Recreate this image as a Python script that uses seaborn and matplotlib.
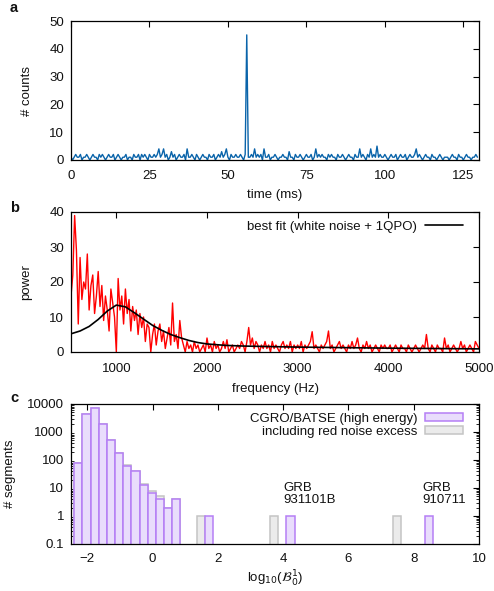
import numpy as np
import pandas as pd
import matplotlib
matplotlib.use("Agg")
import matplotlib.pyplot as plt
import matplotlib.patches as mpatches
from matplotlib.lines import Line2D
import seaborn as sns

# ---------------- data ----------------
# panel a: light curve, 0.5 ms bins
time_step_ms = 0.5
counts = [
    1, 0, 1, 2, 1, 1, 2, 0, 1, 1, 2, 1, 0, 1, 2, 1, 1, 0, 2, 1,
    2, 1, 0, 1, 2, 1, 1, 2, 0, 1, 2, 1, 0, 1, 1, 2, 0, 1, 1, 0,
    2, 1, 1, 2, 0, 2, 1, 2, 1, 0, 2, 1, 1, 2, 1, 2, 4, 1, 2, 4,
    1, 2, 0, 1, 3, 1, 2, 0, 1, 2, 1, 1, 2, 0, 4, 1, 1, 2, 1, 0,
    2, 1, 0, 1, 2, 1, 1, 0, 2, 1, 1, 2, 0, 1, 2, 1, 3, 1, 2, 4,
    1, 0, 2, 1, 1, 2, 1, 1, 2, 1, 0, 2, 45, 1, 1, 2, 1, 4, 1, 2,
    1, 2, 0, 4, 1, 1, 2, 0, 1, 1, 2, 1, 0, 1, 1, 2, 1, 1, 0, 3,
    1, 1, 0, 2, 1, 1, 2, 1, 0, 1, 2, 1, 1, 2, 0, 1, 4, 1, 2, 1,
    2, 1, 1, 0, 2, 1, 2, 1, 1, 0, 2, 1, 1, 2, 1, 0, 1, 2, 1, 1,
    0, 2, 1, 1, 4, 1, 2, 1, 0, 2, 1, 4, 1, 2, 1, 5, 1, 2, 1, 1,
    2, 1, 0, 1, 2, 1, 1, 2, 0, 1, 2, 1, 1, 2, 0, 1, 2, 1, 1, 2,
    4, 1, 2, 1, 0, 1, 2, 1, 1, 0, 2, 1, 1, 0, 1, 2, 1, 0, 1, 1,
    1, 0, 1, 2, 1, 1, 0, 2, 1, 1, 0, 1, 2, 1, 1, 0, 1, 1, 2, 1,
]

# panel b: power spectrum, 20 Hz steps from 500 Hz
freq_start_hz = 500
freq_step_hz = 20
power = [
    16, 22, 39, 29, 8, 27, 15, 20, 18, 28, 12, 19, 22, 11, 16, 23, 13, 19, 9, 16, 12, 6, 18, 14, 10,
    0, 21, 12, 16, 8, 18, 11, 15, 6, 13, 9, 12, 5, 11, 7, 10, 3, 8, 7, 0, 5, 8, 2, 6, 8,
    3, 6, 1, 4, 7, 2, 14, 3, 5, 1, 9, 4, 2, 0, 3, 1, 2, 0, 3, 1, 2, 0, 1, 2, 0,
    4, 1, 2, 0, 3, 1, 2, 0, 1, 3, 1, 3.5, 0, 1, 2, 0, 1, 2, 1, 3, 2, 0, 3, 7, 2,
    4, 1, 3, 2, 0, 2, 1, 3, 1, 2, 0, 3, 1, 2, 1, 0, 2, 3, 1, 2, 1, 3, 0, 2, 1,
    2, 1, 3, 0, 2, 1, 2, 3, 5.8, 1, 2, 1, 0, 2, 1, 2, 3, 6, 1, 2, 0, 1, 2, 3, 1,
    2, 1, 0, 2, 1, 3, 1, 2, 4, 1, 0, 2, 1, 3, 1, 2, 0, 1, 2, 1, 0, 2, 1, 2, 1,
    1, 2, 0, 1, 2, 1, 0, 2, 1, 1, 0, 2, 1, 0, 1, 2, 1, 0, 1, 2, 1, 5, 1, 0, 2,
    1, 0, 2, 1, 1, 0, 4, 1, 2, 0, 1, 2, 1, 0, 1, 3, 1, 2, 0, 1, 2, 1, 0, 3, 2,
    1,
]
fit_freq = [500, 600, 700, 800, 900, 1000, 1100, 1200, 1300, 1400, 1500, 1600, 1700,
            1800, 1900, 2000, 2200, 2400, 2600, 2800, 3000, 3500, 4000, 4500, 5000]
fit_power = [5.2, 6.0, 7.3, 9.3, 11.7, 13.4, 12.9, 11.2, 9.4, 7.6, 6.2, 5.0, 4.1,
             3.3, 2.7, 2.3, 1.9, 1.7, 1.6, 1.5, 1.4, 1.25, 1.1, 1.0, 0.9]

# panel c: histogram of log10 Bayes factors
bin_start = -2.4
bin_width = 0.25
batse_bin_index = [0, 1, 2, 3, 4, 5, 6, 7, 8, 9, 10, 11, 12, 16, 26, 43]
batse_counts = [77, 4400, 7200, 1900, 520, 175, 63, 41, 13, 6.8, 4, 2, 4, 1, 1, 1]
red_bin_index = [0, 1, 2, 3, 4, 5, 6, 7, 8, 9, 10, 11, 12, 15, 24, 39]
red_counts = [77, 4400, 7200, 1900, 520, 175, 66, 41, 14, 7.8, 5, 2, 4, 1, 1, 1]
grb_labels = ["GRB\n931101B", "GRB\n910711"]
grb_x = [4.0, 8.27]

y_ticks_c = [0.1, 1, 10, 100, 1000, 10000]
y_ticklabels_c = ["0.1", "1", "10", "100", "1000", "10000"]

# ---------------- style ----------------
sns.set_theme(style="white")
plt.rcParams["font.family"] = ["Liberation Sans", "DejaVu Sans"]
plt.rcParams["mathtext.fontset"] = "dejavusans"
FS = 9.5
plt.rcParams.update({
    "font.size": FS, "axes.labelsize": FS, "xtick.labelsize": FS, "ytick.labelsize": FS,
    "legend.fontsize": FS, "axes.edgecolor": "black", "axes.linewidth": 0.9,
    "text.color": "#111111", "axes.labelcolor": "#111111",
    "xtick.color": "black", "ytick.color": "black",
})

W, H = 494, 591
fig = plt.figure(figsize=(W / 100, H / 100), dpi=100)


def add_ax(top, bottom, left=71, right=479):
    return fig.add_axes([left / W, 1 - bottom / H, (right - left) / W, (bottom - top) / H])


def style_ax(ax, xpad=7):
    ax.tick_params(direction="in", top=True, right=True, length=4, width=0.8,
                   labelcolor="#111111")
    ax.tick_params(axis="x", pad=xpad)
    ax.tick_params(axis="y", pad=5)
    for s in ax.spines.values():
        s.set_visible(True)
        s.set_color("black")
        s.set_linewidth(0.9)


# ---- panel a ----
ax_a = add_ax(21, 160)
df_a = pd.DataFrame({"t": np.arange(len(counts)) * time_step_ms, "c": counts})
sns.lineplot(data=df_a, x="t", y="c", ax=ax_a, color="#0a64aa", lw=1.0, estimator=None)
ax_a.set_xlim(0, 130)
ax_a.set_ylim(0, 50)
ax_a.set_xticks([0, 25, 50, 75, 100, 125])
ax_a.set_yticks([0, 10, 20, 30, 40, 50])
ax_a.set_xlabel("time (ms)", labelpad=5)
ax_a.set_ylabel("# counts", labelpad=12)
style_ax(ax_a, xpad=7)

# ---- panel b ----
ax_b = add_ax(212, 352)
df_b = pd.DataFrame({"f": freq_start_hz + np.arange(len(power)) * freq_step_hz, "p": power})
sns.lineplot(data=df_b, x="f", y="p", ax=ax_b, color="#ff0000", lw=1.0, estimator=None)
df_fit = pd.DataFrame({"f": fit_freq, "p": fit_power})
sns.lineplot(data=df_fit, x="f", y="p", ax=ax_b, color="black", lw=1.2, estimator=None)
ax_b.set_xlim(500, 5000)
ax_b.set_ylim(0, 40)
ax_b.set_xticks([1000, 2000, 3000, 4000, 5000])
ax_b.set_yticks([0, 10, 20, 30, 40])
ax_b.set_xlabel("frequency (Hz)", labelpad=6)
ax_b.set_ylabel("power", labelpad=12)
style_ax(ax_b, xpad=8)
h_fit = Line2D([], [], color="black", lw=1.2)
ax_b.legend([h_fit], ["best fit (white noise + 1QPO)"], loc="upper right",
            frameon=False, markerfirst=False, handlelength=2.9, handletextpad=0.6,
            borderaxespad=0.25, bbox_to_anchor=(0.983, 1.0))

# ---- panel c ----
ax_c = add_ax(404, 544)
edges = [float(e) for e in bin_start + bin_width * np.arange(0, 51)]
df_red = pd.DataFrame({"x": [bin_start + bin_width * (i + 0.5) for i in red_bin_index],
                       "w": red_counts})
df_batse = pd.DataFrame({"x": [bin_start + bin_width * (i + 0.5) for i in batse_bin_index],
                         "w": batse_counts})
gray_face, gray_edge = "#ebebeb", "#c4c4c4"
purp_face, purp_edge = "#e9ddfc", "#b57ff5"
sns.histplot(data=df_red, x="x", weights="w", bins=edges, ax=ax_c,
             facecolor=gray_face, edgecolor=gray_edge, linewidth=1.1, alpha=1)
sns.histplot(data=df_batse, x="x", weights="w", bins=edges, ax=ax_c,
             facecolor=purp_face, edgecolor=purp_edge, linewidth=1.1, alpha=1)
ax_c.set_yscale("log")
ax_c.set_xlim(-2.5, 10)
ax_c.set_ylim(0.1, 10000)
ax_c.set_xticks([-2, 0, 2, 4, 6, 8, 10])
ax_c.set_yticks(y_ticks_c)
ax_c.set_yticklabels(y_ticklabels_c)
ax_c.yaxis.set_minor_locator(matplotlib.ticker.LogLocator(base=10, subs=np.arange(2, 10) * 1.0, numticks=20))
ax_c.yaxis.set_minor_formatter(matplotlib.ticker.NullFormatter())
ax_c.set_xlabel(r"log$_{10}$($\mathcal{B}_0^1$)", labelpad=3)
ax_c.set_ylabel("# segments", labelpad=8)
style_ax(ax_c, xpad=6.5)
ax_c.tick_params(which="minor", direction="in", left=True, right=True, length=2, width=0.6)
for lab, xv in zip(grb_labels, grb_x):
    ax_c.text(xv, 2.2, lab, ha="left", va="bottom", fontsize=FS, linespacing=1.0)
h1 = mpatches.Patch(facecolor=purp_face, edgecolor=purp_edge, linewidth=1.1)
h2 = mpatches.Patch(facecolor=gray_face, edgecolor=gray_edge, linewidth=1.1)
ax_c.legend([h1, h2], ["CGRO/BATSE (high energy)", "including red noise excess"],
            loc="upper right", frameon=False, markerfirst=False, handlelength=2.9,
            handleheight=0.6, handletextpad=0.6, labelspacing=0.1,
            borderaxespad=0.25, bbox_to_anchor=(0.983, 1.0))

# panel letters
for letter, ypx in [("a", 8), ("b", 208), ("c", 398)]:
    fig.text(10 / W, 1 - ypx / H, letter, fontsize=10.5, fontweight="bold",
             ha="left", va="center")

fig.savefig("out.png", dpi=100)
